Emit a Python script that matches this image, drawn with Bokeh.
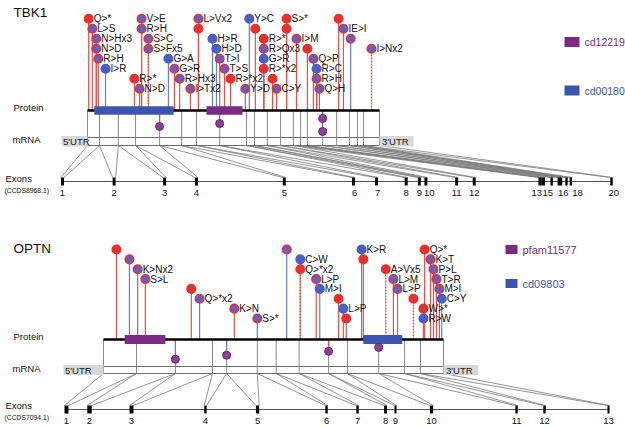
from bokeh.plotting import figure
from bokeh.models import Range1d, ColumnDataSource
from bokeh.core.properties import value
from bokeh.embed import file_html
from bokeh.resources import INLINE

# ======================= DATA =======================
# ---- TBK1 ----
TBK1_LENGTH = 729                      # amino acids
TBK1_DOMAIN_NAMES = ["cd00180", "cd12219"]
TBK1_DOMAIN_START = [17, 297]
TBK1_DOMAIN_END = [215, 387]

TBK1_POS = [3, 12, 22, 22, 27, 45, 117, 130,
            135, 135, 152, 152, 202, 217, 230, 257,
            277, 277, 312, 322, 330, 342, 357, 394,
            404, 419, 440, 440, 440, 440, 462, 472,
            497, 497, 522, 549, 564, 572, 572, 579,
            627, 639, 657, 709]
TBK1_ROW = [8, 7, 6, 5, 4, 3, 2, 1,
            8, 7, 6, 5, 4, 3, 2, 1,
            8, 7, 6, 5, 4, 3, 2, 1,
            8, 7, 6, 5, 4, 3, 2, 1,
            8, 7, 6, 5, 4, 3, 2, 1,
            8, 7, 6, 5]
TBK1_LABEL = ["Q>*", "L>S", "N>Hx3", "N>D", "R>H", "I>R", "R>*", "N>D",
              "V>E", "R>H", "S>C", "S>Fx5", "G>A", "G>R", "R>Hx3", "I>Tx2",
              "L>Vx2", "", "H>R", "H>D", "T>I", "T>S", "R>*x2", "Y>D",
              "Y>C", "", "R>*", "R>Qx3", "G>R", "R>*x2", "", "C>Y",
              "S>*", "", "I>M", "", "Q>P", "R>C", "R>H", "Q>H",
              "", "IE>I", "", "I>Nx2"]
# P = patients only, C = controls only, M = both
TBK1_CIRCLE = ["P", "M", "M", "M", "M", "C", "P", "M",
               "M", "M", "M", "M", "C", "M", "M", "M",
               "M", "P", "C", "C", "M", "M", "P", "M",
               "C", "P", "P", "M", "C", "P", "P", "M",
               "P", "P", "M", "P", "M", "C", "M", "M",
               "P", "M", "M", "M"]
TBK1_STEM = ["P", "P", "P", "P", "P", "C", "P", "P",
             "P", "P", "P", "P", "C", "P", "P", "P",
             "P", "P", "C", "C", "P", "P", "P", "P",
             "C", "P", "P", "P", "P", "P", "P", "P",
             "P", "P", "P", "P", "P", "P", "P", "P",
             "P", "P", "C", "P"]
TBK1_CONFIRMED = [True] * 10 + [False, False] + [True] * 14 + [False] * 4 + [True] * 13 + [False]

TBK1_SPLICE_POS = [180, 330, 587, 587]
TBK1_SPLICE_DEPTH = [1.6, 1.3, 0.8, 2.1]
TBK1_SPLICE_STEM = ["P", "P", "C", "C"]

TBK1_BOUNDARY_AA = [0, 30, 77, 120, 180, 235, 272, 330, 397, 417, 449,
                    482, 514, 532, 549, 587, 622, 654, 674, 689, 729]
TBK1_EXON_KB = [0.0, 4.7, 9.3, 12.2, 20.2, 26.5, 28.6, 31.3, 32.5, 33.1,
                35.9, 37.5, 43.5, 43.8, 44.55, 45.2, 45.4, 45.9, 46.3, 50.0]
TBK1_EXON_LEN_KB = [0.27] * 12 + [0.3, 0.3] + [0.22] * 6
TBK1_EXON_TICKS = ["1", "2", "3", "4", "5", "6", "7", "8", "9", "10", "11",
                   "12", "13", "15", "16", "18", "20"]
TBK1_EXON_TICK_KB = [0.0, 4.7, 9.3, 12.2, 20.2, 26.6, 28.7, 31.3, 32.5, 33.4,
                     35.9, 37.5, 43.2, 44.2, 45.6, 46.9, 50.2]
TBK1_CCDS = "(CCDS8968.1)"

# ---- OPTN ----
OPTN_LENGTH = 577
OPTN_DOMAIN_NAMES = ["pfam11577", "cd09803"]
OPTN_DOMAIN_START = [36, 441]
OPTN_DOMAIN_END = [105, 507]

OPTN_POS = [22, 44, 58, 71, 149, 163, 222, 261,
            311, 334, 334, 361, 367, 399, 407, 412,
            438, 441, 479, 492, 499, 526, 543, 543,
            545, 555, 560, 565, 570, 574]
OPTN_ROW = [8, 7, 6, 5, 4, 3, 2, 1,
            8, 7, 6, 5, 4, 3, 2, 1,
            8, 7, 6, 5, 4, 3, 2, 1,
            8, 7, 6, 5, 4, 3]
OPTN_LABEL = ["", "", "K>Nx2", "S>L", "", "Q>*x2", "K>N", "S>*",
              "", "C>W", "Q>*x2", "L>P", "M>I", "", "L>P", "",
              "K>R", "", "A>Vx5", "L>M", "L>P", "", "W>*", "R>W",
              "Q>*", "K>T", "P>L", "T>R", "M>I", "C>Y"]
OPTN_CIRCLE = ["P", "M", "M", "M", "P", "M", "M", "M",
               "M", "C", "P", "M", "C", "P", "C", "P",
               "C", "P", "P", "M", "M", "P", "P", "C",
               "P", "M", "M", "M", "M", "C"]
OPTN_STEM = ["P", "C", "P", "P", "P", "C", "P", "C",
             "C", "P", "P", "P", "C", "P", "P", "P",
             "C", "P", "P", "P", "P", "P", "P", "C",
             "P", "P", "P", "P", "P", "C"]
OPTN_CONFIRMED = [True] * 9 + [False, False] + [True] * 7 + [False] + [True] * 2 + [False] + [True] * 8

OPTN_SPLICE_POS = [122, 209, 382, 467]
OPTN_SPLICE_DEPTH = [2.0, 1.6, 1.2, 0.8]
OPTN_SPLICE_STEM = ["C", "C", "P", "N"]

OPTN_BOUNDARY_AA = [0, 56, 122, 185, 209, 261, 293, 332, 382, 414, 467, 511, 538, 577]
OPTN_EXON_KB = [0.0, 1.57, 4.44, 9.49, 13.05, 17.76, 19.88, 21.79, 22.47, 24.93,
                30.74, 32.65, 37.02]
OPTN_EXON_LEN_KB = [0.27, 0.3, 0.27, 0.16, 0.22, 0.16, 0.16, 0.19, 0.14, 0.22,
                    0.16, 0.16, 0.14]
OPTN_EXON_TICKS = [str(i) for i in range(1, 14)]
OPTN_EXON_TICK_KB = OPTN_EXON_KB
OPTN_CCDS = "(CCDS7094.1)"

# ======================= STYLE =======================
FONT = value("Liberation Sans")
RED = "#e8302f"
BLUE = "#4a5fc4"
MIX = "#6260c4"
STEM_RED = "#e65048"
STEM_BLUE = "#6a7bd0"
GRAY = "#8a8a8a"
PURPLE = "#7b2a86"
DBLUE = "#3c55b3"
SPLICE = "#8e3d9e"

CIRCLE_FILL = {"P": RED, "M": MIX, "C": BLUE}
CIRCLE_LINE = {"P": RED, "M": RED, "C": BLUE}
STEM_COLOR = {"P": STEM_RED, "C": STEM_BLUE, "N": GRAY}

# frame (page px) limits
XL, XR, YB, YT = 0, 625, 428, 0

p = figure(width=XR - XL, height=YB - YT, x_range=Range1d(XL, XR), y_range=Range1d(YB, YT),
           output_backend="svg", toolbar_location=None, min_border=0,
           x_axis_location=None, y_axis_location=None, outline_line_color=None,
           background_fill_color="white", border_fill_color="white")
p.grid.visible = False


def lin_range(d0, d1, p0, p1):
    s = (d1 - d0) / (p1 - p0)
    return Range1d(start=d0 - (p0 - XL) * s, end=d1 + (XR - p1) * s)


def txt(x, y, s, size, color="#111111", align="left", **kw):
    p.text(x=[x], y=[y], text=[s], text_font=FONT, text_font_size=f"{size}px",
           text_color=color, text_align=align, text_baseline="middle", **kw)


def panel(key, title, length, dnames, dstart, dend, pos, row, label, circ, stem, conf,
          spos, sdepth, sstem, bounds, exkb, exlen, ticks, tickkb, ccds, L):
    aa_rng = lin_range(0, length, L["p0"], L["p1"])
    kb_rng = lin_range(exkb[0], exkb[-1], L["g0"], L["g1"])
    py, step = L["py"], L["step"]
    u_rng = Range1d(start=(py - YB) / step, end=(py - YT) / step)
    p.extra_x_ranges[key + "_aa"] = aa_rng
    p.extra_x_ranges[key + "_kb"] = kb_rng
    p.extra_y_ranges[key + "_u"] = u_rng
    A = dict(x_range_name=key + "_aa")
    AU = dict(x_range_name=key + "_aa", y_range_name=key + "_u")
    K = dict(x_range_name=key + "_kb")

    def kb_as_aa(kb):
        f = (kb - kb_rng.start) / (kb_rng.end - kb_rng.start)
        return aa_rng.start + f * (aa_rng.end - aa_rng.start)

    # fan lines mRNA -> exons
    fx0, fx1 = [], []
    n = len(exkb)
    for i, b in enumerate(bounds):
        if i - 1 >= 0:
            fx0.append(b); fx1.append(kb_as_aa(exkb[i - 1] + exlen[i - 1] / 2))
        if i < n:
            fx0.append(b); fx1.append(kb_as_aa(exkb[i] - exlen[i] / 2))
    p.segment(x0=fx0, y0=[L["mb"]] * len(fx0), x1=fx1, y1=[L["et"]] * len(fx0),
              line_color="#7a7a7a", line_width=0.8, **A)
    # exon boundary verticals
    p.segment(x0=bounds, y0=[py] * len(bounds), x1=bounds, y1=[L["mb"]] * len(bounds),
              line_color=GRAY, line_width=1, **A)
    # mRNA box lines
    p.segment(x0=[0, 0], y0=[L["mt"], L["mb"]], x1=[length, length], y1=[L["mt"], L["mb"]],
              line_color="#6e6e6e", line_width=1, **A)
    # UTRs
    p.quad(left=[L["u5"], length], right=[0, length + L["u3"]], top=[L["ut"]] * 2,
           bottom=[L["ub"]] * 2, fill_color="#d8d8d8", line_color=None, **A)
    uy = (L["ut"] + L["ub"]) / 2
    p.text(x=[L["u5"], length], y=[uy, uy], text=["5'UTR", "3'UTR"], x_offset=[1.5, 2.5],
           text_font=FONT, text_font_size="9.5px", text_color="#222222",
           text_baseline="middle", **A)
    # genomic line + exons
    p.segment(x0=[exkb[0]], y0=[L["gy"]], x1=[exkb[-1]], y1=[L["gy"]],
              line_color="#555555", line_width=1, **K)
    p.quad(left=[k - w / 2 for k, w in zip(exkb, exlen)],
           right=[k + w / 2 for k, w in zip(exkb, exlen)],
           top=[L["et"]] * n, bottom=[L["eb"]] * n, fill_color="black", line_color=None, **K)
    p.text(x=tickkb, y=[L["ly"]] * len(ticks), text=ticks, text_font=FONT,
           text_font_size="9.5px", text_color="#111111", text_align="center",
           text_baseline="middle", **K)

    # stems
    src = ColumnDataSource(dict(
        pos=pos, u=[L["first"] + r - 1 for r in row], label=label,
        fill=[CIRCLE_FILL[c] for c in circ], line=[CIRCLE_LINE[c] for c in circ]))
    order = sorted(range(len(pos)), key=lambda i: -row[i])
    for dashed in (False, True):
        idx = [i for i in order if conf[i] != dashed]
        if not idx:
            continue
        kw = dict(line_dash="2 1", line_width=1.4) if dashed else dict(line_width=1.2)
        p.segment(x0=[pos[i] for i in idx], y0=[0] * len(idx), x1=[pos[i] for i in idx],
                  y1=[L["first"] + row[i] - 1 for i in idx],
                  line_color=[STEM_COLOR[stem[i]] for i in idx], **kw, **AU)
    # splice stems
    p.segment(x0=spos, y0=[0] * len(spos), x1=spos, y1=[-d for d in sdepth],
              line_color=[STEM_COLOR[s] for s in sstem], line_width=1.2, **AU)
    # protein line + domains
    p.segment(x0=[0], y0=[py], x1=[length], y1=[py], line_color="black", line_width=2.6, **A)
    dcol = [DBLUE if nme.startswith("cd0") else PURPLE for nme in dnames]
    p.quad(left=dstart, right=dend, top=[py - L["dh"]] * len(dnames),
           bottom=[py + L["dh"]] * len(dnames), fill_color=dcol, line_color=None, **A)
    # circles
    p.scatter(x="pos", y="u", source=src, size=8.5, fill_color="fill", line_color="line",
              line_width=1.6, **AU)
    p.scatter(x=spos, y=[-d for d in sdepth], size=8, fill_color=SPLICE,
              line_color="#6a2477", line_width=1, **AU)
    p.text(x="pos", y="u", text="label", source=src, x_offset=5, text_font=FONT,
           text_font_size="10px", text_color="#111111", text_baseline="middle", **AU)

    # side texts
    txt(13, L["ty"], title, 13.5)
    txt(13, L["pl"], "Protein", 9.5)
    txt(12, L["ml"], "mRNA", 9.5)
    txt(5, L["xl"], "Exons", 9.5)
    txt(4, L["cl"], ccds, 6.8)
    # legend
    for nme, c, ly in zip(dnames[::-1] if dnames[0].startswith("cd0") else dnames,
                          [PURPLE, DBLUE], L["legy"]):
        p.quad(left=[L["lx0"]], right=[L["lx1"]], top=[ly - L["lh"]], bottom=[ly + L["lh"]],
               fill_color=c, line_color=None)
        txt(L["ltx"], ly, nme, L["lfs"], color=c)


TBK1_LAYOUT = dict(p0=87, p1=379, g0=62, g1=611, py=110, step=10.0, first=2.17, dh=4.3,
                   mt=137, mb=145, ut=135.5, ub=146, u5=-65, u3=85,
                   et=177, eb=185, gy=181, ly=192,
                   ty=12, pl=107, ml=139, xl=178, cl=190,
                   legy=[41.5, 90], lx0=564, lx1=579, lh=5, ltx=584, lfs=10.5)
OPTN_LAYOUT = dict(p0=103, p1=443, g0=66, g1=608, py=339, step=9.86, first=2.13, dh=4.5,
                   mt=366, mb=373, ut=364.5, ub=374.5, u5=-68, u3=59,
                   et=405, eb=413, gy=409, ly=420,
                   ty=248, pl=336, ml=368, xl=405, cl=417,
                   legy=[249, 283], lx0=505, lx1=517, lh=4.5, ltx=522, lfs=11)

panel("tbk1", "TBK1", TBK1_LENGTH, TBK1_DOMAIN_NAMES, TBK1_DOMAIN_START, TBK1_DOMAIN_END,
      TBK1_POS, TBK1_ROW, TBK1_LABEL, TBK1_CIRCLE, TBK1_STEM, TBK1_CONFIRMED,
      TBK1_SPLICE_POS, TBK1_SPLICE_DEPTH, TBK1_SPLICE_STEM,
      TBK1_BOUNDARY_AA, TBK1_EXON_KB, TBK1_EXON_LEN_KB, TBK1_EXON_TICKS, TBK1_EXON_TICK_KB,
      TBK1_CCDS, TBK1_LAYOUT)
panel("optn", "OPTN", OPTN_LENGTH, OPTN_DOMAIN_NAMES, OPTN_DOMAIN_START, OPTN_DOMAIN_END,
      OPTN_POS, OPTN_ROW, OPTN_LABEL, OPTN_CIRCLE, OPTN_STEM, OPTN_CONFIRMED,
      OPTN_SPLICE_POS, OPTN_SPLICE_DEPTH, OPTN_SPLICE_STEM,
      OPTN_BOUNDARY_AA, OPTN_EXON_KB, OPTN_EXON_LEN_KB, OPTN_EXON_TICKS, OPTN_EXON_TICK_KB,
      OPTN_CCDS, OPTN_LAYOUT)

open("out.html", "w").write(file_html(p, INLINE))
